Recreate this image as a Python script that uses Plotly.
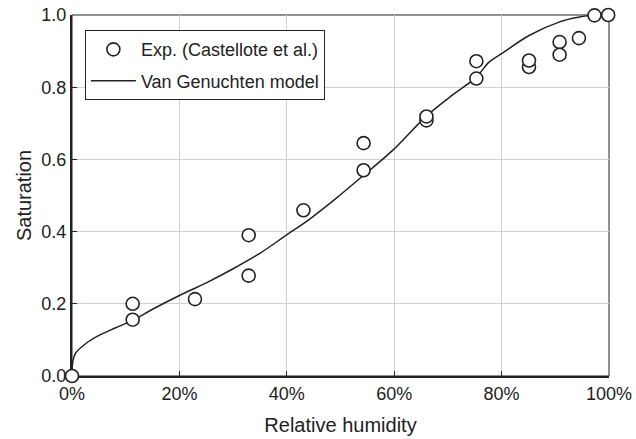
import plotly.graph_objects as go

# Experimental data (Castellote et al.)
exp_rh = [0.0, 0.113, 0.113, 0.229, 0.329, 0.329, 0.431, 0.543, 0.543, 0.660, 0.660,
          0.753, 0.753, 0.851, 0.851, 0.908, 0.908, 0.944, 0.973, 0.9985]
exp_sat = [0.0, 0.200, 0.156, 0.213, 0.390, 0.278, 0.459, 0.645, 0.570, 0.708, 0.719,
           0.872, 0.824, 0.856, 0.874, 0.925, 0.890, 0.936, 0.999, 1.0]

# Van Genuchten model curve
model_rh = [0.0, 0.0015, 0.0065, 0.026, 0.051, 0.08, 0.113, 0.15, 0.2, 0.25, 0.3, 0.35,
            0.399, 0.442, 0.49, 0.543, 0.597, 0.66, 0.71, 0.753, 0.777, 0.80, 0.852,
            0.908, 0.94, 0.969, 1.0]
model_sat = [0.0, 0.04, 0.063, 0.09, 0.113, 0.133, 0.154, 0.185, 0.223, 0.258, 0.297, 0.34,
             0.39, 0.434, 0.49, 0.556, 0.625, 0.72, 0.78, 0.828, 0.87, 0.893, 0.944,
             0.981, 0.993, 0.999, 1.0]

x_ticks = [0, 0.2, 0.4, 0.6, 0.8, 1.0]
x_labels = ["0%", "20%", "40%", "60%", "80%", "100%"]
y_ticks = [0, 0.2, 0.4, 0.6, 0.8, 1.0]
y_labels = ["0.0", "0.2", "0.4", "0.6", "0.8", "1.0"]

font_family = "Liberation Sans, Arial, sans-serif"

fig = go.Figure()
fig.add_trace(go.Scatter(
    x=model_rh, y=model_sat, mode="lines", name="Van Genuchten model",
    line=dict(color="#222222", width=1.5), line_shape="spline",
    legendgroup="b", legendrank=2,
))
fig.add_trace(go.Scatter(
    x=exp_rh, y=exp_sat, mode="markers", name="Exp. (Castellote et al.)",
    marker=dict(symbol="circle", size=13, color="white",
                line=dict(width=1.6, color="#222222")),
    cliponaxis=False, legendgroup="a", legendrank=1,
))

fig.update_layout(
    width=636, height=439,
    margin=dict(l=72, r=27, t=15, b=63),
    paper_bgcolor="white", plot_bgcolor="white",
    font=dict(family=font_family, color="#222222", size=18),
    showlegend=True,
    legend=dict(
        x=0.024, y=0.958, xanchor="left", yanchor="top",
        bgcolor="white", bordercolor="#222222", borderwidth=1,
        font=dict(size=18, family=font_family, color="#222222"),
        traceorder="grouped", tracegroupgap=5,
        itemwidth=45,
    ),
    xaxis=dict(
        range=[0, 1], tickvals=x_ticks, ticktext=x_labels,
        showgrid=True, gridcolor="#d0d0d0", gridwidth=1,
        showline=True, linecolor="#222222", linewidth=2,
        ticks="inside", ticklen=5, tickcolor="#222222",
        zeroline=False, automargin=False, layer="below traces",
        title=dict(text="Relative humidity", font=dict(size=20), standoff=15),
        tickfont=dict(size=18),
    ),
    yaxis=dict(
        range=[0, 1], tickvals=y_ticks, ticktext=y_labels,
        showgrid=True, gridcolor="#d0d0d0", gridwidth=1,
        showline=True, linecolor="#222222", linewidth=2,
        ticks="inside", ticklen=5, tickcolor="#222222",
        zeroline=False, automargin=False, layer="below traces",
        title=dict(text="Saturation", font=dict(size=20), standoff=4),
        tickfont=dict(size=18),
    ),
)
fig.add_shape(type="rect", xref="paper", yref="paper", x0=0, y0=0, x1=1, y1=1,
              line=dict(color="#222222", width=1), layer="below")

fig.write_html("out.html", config={"displayModeBar": False},
               post_script="document.body.style.margin='0';")
